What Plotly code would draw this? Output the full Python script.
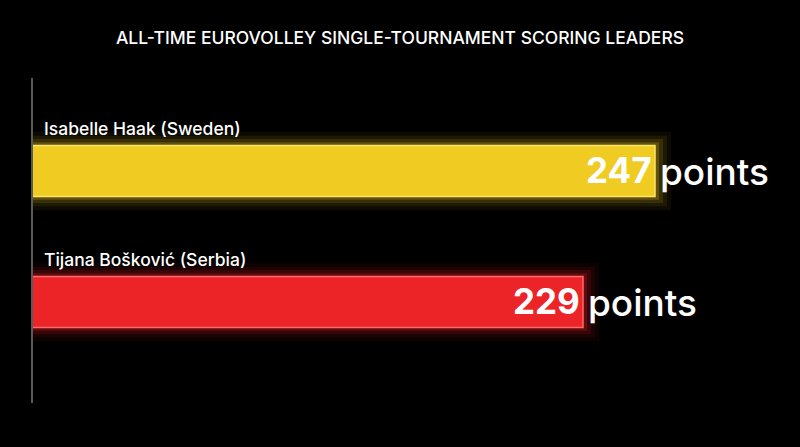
import plotly.graph_objects as go

players = ["Isabelle Haak (Sweden)", "Tijana Bošković (Serbia)"]
points = [247, 229]
bar_colors = ["#F0CB22", "#EC2428"]
edge_colors = ["#FBE56A", "#FF6A6A"]
glow_colors = ["rgba(240,200,30,{a})", "rgba(240,30,35,{a})"]
title = "ALL-TIME EUROVOLLEY SINGLE-TOURNAMENT SCORING LEADERS"

FONT = "Inter, Open Sans, sans-serif"
idx = list(range(len(players)))

fig = go.Figure()

# glow layers
for w, a, ext in [(0.60, 0.05, 4.0), (0.54, 0.08, 3.0), (0.49, 0.13, 2.0), (0.44, 0.22, 1.0)]:
    fig.add_trace(go.Bar(
        y=idx, x=[p + ext for p in points], orientation="h", width=w,
        marker=dict(color=[g.format(a=a) for g in glow_colors], line=dict(width=0)),
        hoverinfo="skip", showlegend=False,
    ))

fig.add_trace(go.Bar(
    y=idx, x=points, orientation="h", width=0.39,
    marker=dict(color=bar_colors, line=dict(color=edge_colors, width=1.5)),
    showlegend=False,
))

annotations = []
for i, (name, p) in enumerate(zip(players, points)):
    annotations.append(dict(
        x=0, xref="paper", y=i, yref="y", text=name, showarrow=False,
        xanchor="left", yanchor="middle", xshift=9, yshift=43,
        font=dict(family=FONT, size=17.5, color="#FFFFFF", weight=500),
    ))
    annotations.append(dict(
        x=p, xref="x", y=i, yref="y", text=f"<b>{p}</b>", showarrow=False,
        xanchor="right", yanchor="middle", xshift=-1, yshift=1,
        font=dict(family=FONT, size=35, color="#FFFFFF"),
    ))
    annotations.append(dict(
        x=p, xref="x", y=i, yref="y", text="points", showarrow=False,
        xanchor="left", yanchor="middle", xshift=3, yshift=0,
        font=dict(family=FONT, size=37, color="#FFFFFF", weight=500),
    ))

fig.update_layout(
    width=800, height=447,
    paper_bgcolor="#000000", plot_bgcolor="#000000",
    margin=dict(l=33, r=0, t=78, b=44),
    barmode="overlay",
    title=dict(text=title, x=0.5, xanchor="center", y=0.916, yanchor="middle",
               font=dict(family=FONT, size=17.5, color="#FFFFFF", weight=500)),
    xaxis=dict(range=[91.5, 283.25], visible=False, showgrid=False, zeroline=False),
    yaxis=dict(range=[1.771, -0.71], showline=True, linecolor="#5a5a5a", linewidth=2,
               showticklabels=False, ticks="", showgrid=False, zeroline=False),
    annotations=annotations,
)

fig.write_html("out.html", config={"displayModeBar": False},
               post_script="document.body.style.margin='0';document.body.style.background='#000';")
